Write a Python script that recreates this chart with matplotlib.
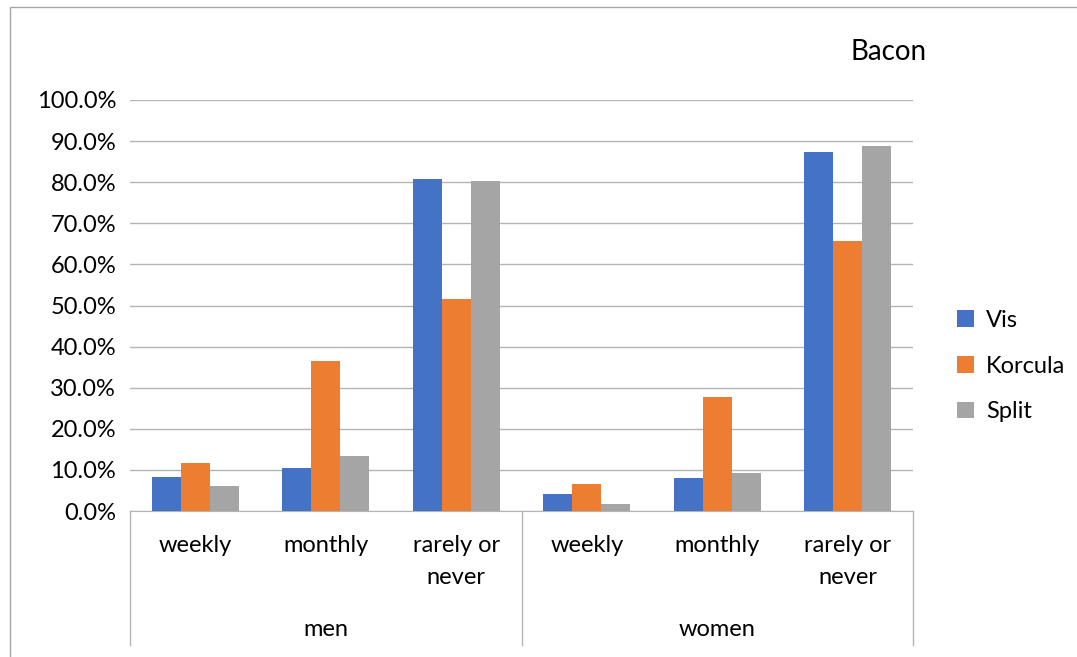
"""Bacon consumption by frequency, sex and place (grouped bars)."""

import matplotlib
matplotlib.use('Agg')
import matplotlib.pyplot as plt
import numpy as np
from matplotlib.lines import Line2D
from matplotlib.patches import Rectangle

plt.rcParams['font.family'] = ['Lato', 'DejaVu Sans']

W, H = 1077, 657
FS = 17

groups = ['men', 'women']
frequencies = ['weekly', 'monthly', 'rarely or\nnever']
series = ['Vis', 'Korcula', 'Split']
colors = ['#4472C4', '#ED7D31', '#A5A5A5']

# values in %, order: men weekly/monthly/rarely, women weekly/monthly/rarely
vis = [8.2, 10.5, 80.9, 4.1, 8.1, 87.4]
korcula = [11.6, 36.5, 51.6, 6.5, 27.7, 65.6]
split = [6.0, 13.3, 80.3, 1.8, 9.2, 88.7]

fig = plt.figure(figsize=(W / 100, H / 100), dpi=100)

# outer chart border
fig.add_artist(Rectangle((10 / W, -0.1), 1.2, 1 - 7 / H + 0.1,
                         transform=fig.transFigure, fill=False,
                         edgecolor='#a6a6a6', linewidth=1))

x0, x1, y0, y1 = 130, 913, 511, 100
ax = fig.add_axes([x0 / W, 1 - y0 / H, (x1 - x0) / W, (y0 - y1) / H])

n = len(vis)
x = np.arange(n)
bw = 0.222
for i, (vals, c, name) in enumerate(zip([vis, korcula, split], colors, series)):
    ax.bar(x + (i - 1) * bw, vals, bw, color=c, label=name, zorder=3)

ax.set_xlim(-0.5, n - 0.5)
ax.set_ylim(0, 100)
ax.set_yticks(np.arange(0, 101, 10))
ax.set_yticklabels([f'{v:.1f}%' for v in np.arange(0, 101, 10)], fontsize=FS)
ax.grid(axis='y', color='#b4b4b4', linewidth=1, zorder=0)
ax.tick_params(axis='y', length=0, pad=10)
ax.tick_params(axis='x', length=0)
ax.set_xticks([])
for s in ['top', 'right', 'left']:
    ax.spines[s].set_visible(False)
ax.spines['bottom'].set_color('#b4b4b4')

# two-level category labels
for k in range(n):
    fx = (x0 + (k + 0.5) * (x1 - x0) / n) / W
    lines = frequencies[k % 3].split('\n')
    for j, txt in enumerate(lines):
        fig.text(fx, 1 - (546 + 32 * j) / H, txt, ha='center', va='center',
                 fontsize=FS)
for g, name in enumerate(groups):
    fx = (x0 + (g + 0.5) * (x1 - x0) / 2) / W
    fig.text(fx, 1 - 630 / H, name, ha='center', va='center', fontsize=FS)
for px in [x0, (x0 + x1) / 2, x1]:
    fig.add_artist(Line2D([px / W, px / W], [1 - y0 / H, 1 - 645 / H],
                          transform=fig.transFigure, color='#b4b4b4',
                          linewidth=1))

fig.text(889 / W, 1 - 52 / H, 'Bacon', ha='center', va='center', fontsize=20)

fig.legend(loc='center left', bbox_to_anchor=(948 / W, 1 - 366 / H),
           frameon=False, fontsize=FS, handlelength=0.7, handleheight=0.7,
           handletextpad=0.5, labelspacing=1.05, borderaxespad=0)

fig.savefig('out.png', dpi=100)
